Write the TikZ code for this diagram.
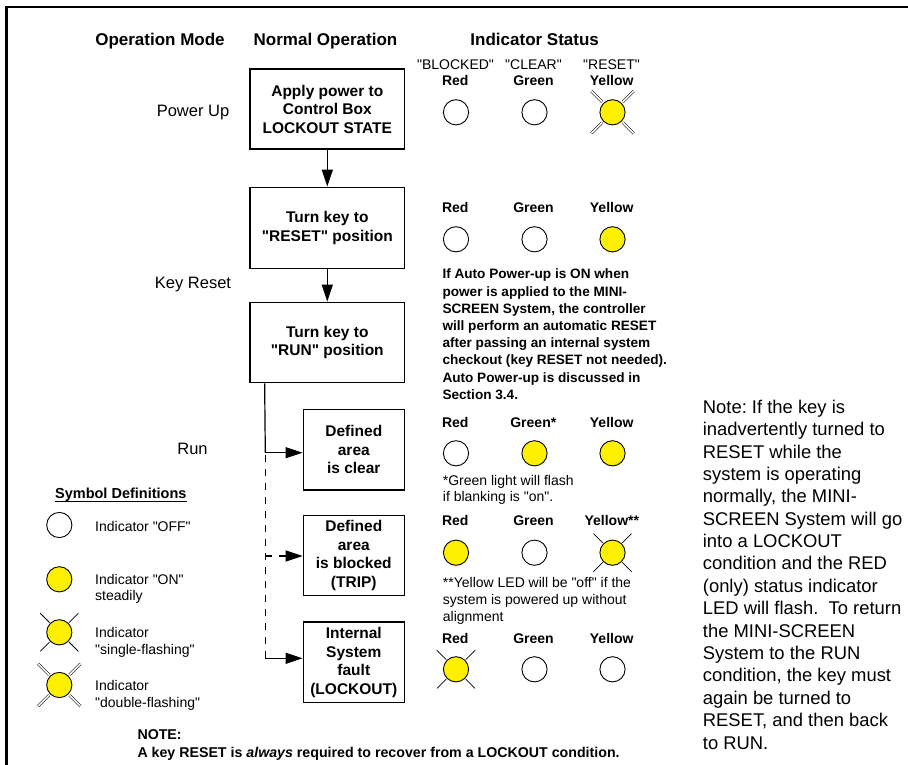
\documentclass[tikz,border=0pt]{standalone}
\usepackage{fontspec}
\setmainfont{Liberation Sans}[Ligatures=TeXOff]
\usetikzlibrary{arrows.meta,calc}
\definecolor{ledyellow}{RGB}{255,240,0}
\newcommand\sflash[1]{\foreach \a in {45,135,225,315}{\draw[ray] ($(#1.center)+(\a:13.8)$) -- ($(#1.center)+(\a:27)$);}}
\newcommand\dflash[1]{\foreach \a in {45,135,225,315}{\draw[dray] ($(#1.center)+(\a:14.5)$) -- ($(#1.center)+(\a:30)$);}}
\frenchspacing
\begin{document}
\begin{tikzpicture}[x=1pt,y=-1pt,
  hdr/.style={font=\fontsize{17}{20}\selectfont\bfseries, inner sep=0pt, anchor=base},
  mode/.style={font=\fontsize{16.5}{20}\selectfont, inner sep=0pt, anchor=base},
  box/.style={draw, line width=1.4pt, inner sep=0pt, align=center, font=\fontsize{15.5}{18.5}\selectfont\bfseries},
  lbl/.style={font=\fontsize{14}{17}\selectfont\bfseries, inner sep=0pt, anchor=base},
  qlbl/.style={font=\fontsize{14}{17}\selectfont, inner sep=0pt, anchor=base},
  para/.style={font=\fontsize{13.6}{17.2}\selectfont\bfseries, inner sep=0pt, align=left, anchor=north west},
  small/.style={font=\fontsize{14}{16.8}\selectfont, inner sep=0pt, align=left, anchor=north west},
  note/.style={font=\fontsize{18.4}{22.38}\selectfont, inner sep=0pt, align=left, anchor=north west},
  led/.style={circle, draw, line width=0.9pt, minimum size=25.2pt, inner sep=0pt, fill=white},
  ledon/.style={led, fill=ledyellow},
  ray/.style={line width=0.75pt},
  dray/.style={line width=0.55pt, double=white, double distance=1.5pt},
  conn/.style={line width=1.2pt},
  arr/.style={conn, -{Triangle[length=17pt,width=11pt]}},
  dconn/.style={conn, dash pattern=on 7pt off 7pt}
]
\useasboundingbox (0,0) rectangle (908,765);
\draw[line width=2.5pt] (6.5,765) -- (6.5,7) -- (908,7);

% headers
\node[hdr] (hmode) at (160,45.7) {Operation Mode};
\node[hdr] (hnorm) at (325.5,45.7) {Normal Operation};
\node[hdr] (hind) at (534.7,45.7) {Indicator Status};

% operation modes
\node[mode] (mpow) at (193,116.5) {Power Up};
\node[mode] (mkey) at (193,288.5) {Key Reset};
\node[mode] (mrun) at (192.5,454) {Run};

% boxes
\node[box, minimum width=154.5pt, minimum height=80pt] (b1) at (327.3,109.2) {Apply power to\\Control Box\\LOCKOUT STATE};
\node[box, minimum width=154.5pt, minimum height=81pt] (b2) at (327.3,227.8) {Turn key to\\"RESET" position};
\node[box, minimum width=154.5pt, minimum height=80.4pt] (b3) at (327.3,342.5) {Turn key to\\"RUN" position};
\node[box, minimum width=101pt, minimum height=80.7pt] (b4) at (353.8,449.7) {Defined\\area\\is clear};
\node[box, minimum width=101pt, minimum height=80pt] (b5) at (353.8,555.7) {Defined\\area\\is blocked\\(TRIP)};
\node[box, minimum width=101pt, minimum height=80.7pt] (b6) at (353.8,662.3) {Internal\\System\\fault\\(LOCKOUT)};

% connectors
\draw[arr] (b1.south) -- (b2.north);
\draw[arr] (b2.south) -- (b3.north);
\coordinate (t0) at ($(b3.south west)+(15.3,0)$);
\coordinate (t1) at (265.3,452.7);
\coordinate (t2) at (265.3,556);
\coordinate (t3) at (265.3,658.3);
\draw[conn] (t0) -- (t1);
\draw[arr] (t1) -- (t1 -| b4.west);
\draw[dconn] (t3) -- (t1);
\draw[dconn, -{Triangle[length=17pt,width=11pt]}] (t2) -- (t2 -| b5.west);
\draw[arr] (t3) -- (t3 -| b6.west);

% row 1
\node[qlbl] (q1) at (455.5,69.3) {"BLOCKED"};
\node[qlbl] (q2) at (533.5,69.3) {"CLEAR"};
\node[qlbl] (q3) at (611.5,69.3) {"RESET"};
\node[lbl] (l1r) at (455.3,85.7) {Red};
\node[lbl] (l1g) at (533.5,85.7) {Green};
\node[lbl] (l1y) at (611.7,85.7) {Yellow};
\node[led] (r1) at (456,112.3) {};
\node[led] (g1) at (534.5,112.3) {};
\node[ledon] (y1) at (612.5,112.3) {};
\dflash{y1}

% row 2
\node[lbl] (l2r) at (455.3,212.3) {Red};
\node[lbl] (l2g) at (533.5,212.3) {Green};
\node[lbl] (l2y) at (611.7,212.3) {Yellow};
\node[led] (r2) at (456,239.3) {};
\node[led] (g2) at (534.5,239.3) {};
\node[ledon] (y2) at (612.5,239.3) {};
\node[para] (auto) at (442.3,268.8) {If Auto Power-up is ON when\\power is applied to the MINI-\\SCREEN System, the controller\\will perform an automatic RESET\\after passing an internal system\\checkout (key RESET not needed).\\Auto Power-up is discussed in\\Section 3.4.};

% row 3
\node[lbl] (l3r) at (455.3,427.3) {Red};
\node[lbl] (l3g) at (533.3,427.3) {Green*};
\node[lbl] (l3y) at (611.7,427.3) {Yellow};
\node[led] (r3) at (456,453.3) {};
\node[ledon] (g3) at (534.5,453.3) {};
\node[ledon] (y3) at (612.5,453.3) {};
\node[small] (fn1) at (442.7,474.8) {*Green light will flash\\if blanking is "on".};

% row 4
\node[lbl] (l4r) at (455.3,525.7) {Red};
\node[lbl] (l4g) at (533.5,525.7) {Green};
\node[lbl] (l4y) at (611.8,525.7) {Yellow**};
\node[ledon] (r4) at (456,552.7) {};
\node[led] (g4) at (534.5,552.7) {};
\node[ledon] (y4) at (612.5,552.7) {};
\sflash{y4}
\node[small] (fn2) at (442.7,577.1) {**Yellow LED will be "off" if the\\system is powered up without\\alignment};

% row 5
\node[lbl] (l5r) at (455.3,643.3) {Red};
\node[lbl] (l5g) at (533.5,643.3) {Green};
\node[lbl] (l5y) at (611.7,643.3) {Yellow};
\node[ledon] (r5) at (456,669.3) {};
\node[led] (g5) at (534.5,669.3) {};
\node[led] (y5) at (612.5,669.3) {};
\sflash{r5}

% symbol definitions
\node[lbl, font=\fontsize{14.5}{17}\selectfont\bfseries] (symt) at (120.8,498.3) {Symbol Definitions};
\draw[line width=0.9pt] ($(symt.base west)+(0,2.7)$) -- ($(symt.base east)+(0,2.7)$);
\node[led] (s1) at (59.3,525) {};
\node[ledon] (s2) at (59.3,579.3) {};
\node[ledon] (s3) at (59.3,632.3) {};
\node[ledon] (s4) at (59.3,685) {};
\sflash{s3}
\dflash{s4}
\node[qlbl, anchor=base west] (d1) at (95,531) {Indicator "OFF"};
\node[small, font=\fontsize{14}{16}\selectfont] (d2) at (95,574.1) {Indicator "ON"\\steadily};
\node[small, font=\fontsize{14}{17.3}\selectfont] (d3) at (95,626.8) {Indicator\\"single-flashing"};
\node[small, font=\fontsize{14}{17.3}\selectfont] (d4) at (95,679.8) {Indicator\\"double-flashing"};

% bottom note
\node[para, font=\fontsize{14.2}{17.3}\selectfont\bfseries] (nb) at (137.3,729.8) {NOTE:\\A key RESET is \textit{always} required to recover from a LOCKOUT condition.};

% right note
\node[note] (rn) at (702.7,399.8) {Note: If the key is\\inadvertently turned to\\RESET while the\\system is operating\\normally, the MINI-\\SCREEN System will go\\into a LOCKOUT\\condition and the RED\\(only) status indicator\\LED will flash.~~To return\\the MINI-SCREEN\\System to the RUN\\condition, the key must\\again be turned to\\RESET, and then back\\to RUN.};
\end{tikzpicture}
\end{document}
